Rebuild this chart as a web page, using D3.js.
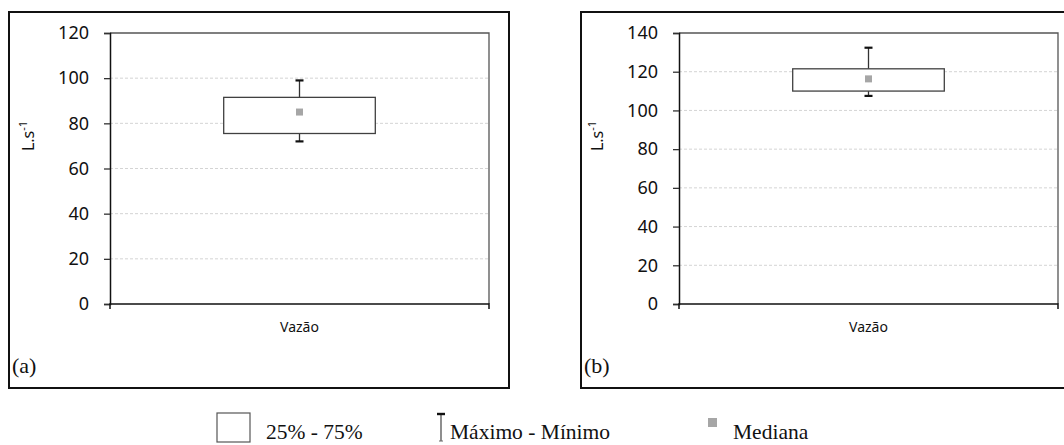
<!DOCTYPE html>
<html>
<head>
<meta charset="utf-8">
<script src="https://cdn.jsdelivr.net/npm/d3@7"></script>
<style>
  body { margin: 0; background: #fff; }
  svg { display: block; }
</style>
</head>
<body>
<svg></svg>
<script>
// data
const panelLabels = ['(a)', '(b)'];
const categories = ['Vazão'];
const yMaxes = [120, 140];
const yTicksA = [0, 20, 40, 60, 80, 100, 120];
const yTicksB = [0, 20, 40, 60, 80, 100, 120, 140];
const minimos = [72, 107.5];
const q1s = [75.5, 110];
const medianas = [85, 116.3];
const q3s = [91.5, 121.5];
const maximos = [99, 132.4];
const legendLabels = ['25% - 75%', 'Máximo - Mínimo', 'Mediana'];

const [svgWidth, svgHeight] = [1064, 445];
const svg = d3.select('svg')
  .attr('width', svgWidth)
  .attr('height', svgHeight);

const panels = [
  {outer: [9, 12, 500, 376], plot: [110, 33, 379, 271], ticks: yTicksA},
  {outer: [581, 12, 500, 376], plot: [679, 33, 379, 271], ticks: yTicksB}
];

panels.forEach((p, i) => {
  const [ox, oy, ow, oh] = p.outer;
  const [px, py, pw, ph] = p.plot;

  svg.append('rect')
    .attr('x', ox).attr('y', oy)
    .attr('width', ow).attr('height', oh)
    .attr('fill', 'none')
    .attr('stroke', '#111')
    .attr('stroke-width', 2);

  const g = svg.append('g')
    .attr('transform', `translate(${px}, ${py})`);

  const y = d3.scaleLinear()
    .domain([0, yMaxes[i]])
    .range([ph, 0]);
  const x = d3.scaleBand()
    .domain(categories)
    .range([0, pw])
    .paddingInner(0)
    .paddingOuter(0.75);

  // gridlines
  g.append('g')
    .selectAll('line')
    .data(p.ticks.filter(t => t > 0 && t < yMaxes[i]))
    .join('line')
    .attr('x1', 0).attr('x2', pw)
    .attr('y1', d => y(d)).attr('y2', d => y(d))
    .attr('stroke', '#d4d4d4')
    .attr('stroke-dasharray', '3,2');

  // top and right frame
  g.append('path')
    .attr('d', `M0,0H${pw}V${ph}`)
    .attr('fill', 'none')
    .attr('stroke', '#555')
    .attr('stroke-width', 1.3);

  // y axis
  const yAxis = g.append('g')
    .call(d3.axisLeft(y).tickValues(p.ticks).tickSize(6).tickPadding(15));
  yAxis.select('.domain').attr('stroke', '#111').attr('stroke-width', 1.5);
  yAxis.selectAll('.tick line').attr('stroke', '#333').attr('stroke-width', 1.3);
  yAxis.selectAll('.tick text')
    .attr('font-family', '"Noto Sans", sans-serif')
    .attr('font-size', 18)
    .attr('fill', '#111');

  // x axis
  g.append('path')
    .attr('d', `M0,${ph + 5}V${ph}H${pw}V${ph + 5}`)
    .attr('fill', 'none')
    .attr('stroke', '#111')
    .attr('stroke-width', 1.5);
  g.append('text')
    .attr('x', x(categories[0]) + x.bandwidth() / 2)
    .attr('y', ph + 28)
    .attr('text-anchor', 'middle')
    .attr('font-family', '"Noto Sans", sans-serif')
    .attr('font-size', 14)
    .attr('fill', '#111')
    .text(categories[0]);

  // y title
  const yt = g.append('text')
    .attr('transform', `translate(-76, ${ph * 0.38}) rotate(-90)`)
    .attr('text-anchor', 'middle')
    .attr('font-family', '"Noto Sans", sans-serif')
    .attr('font-size', 16)
    .attr('fill', '#111');
  yt.append('tspan').text('L.s');
  yt.append('tspan').attr('font-size', 11).attr('dy', -7).text('-1');

  // box
  const cx = x(categories[0]) + x.bandwidth() / 2;
  const capW = 8;
  g.append('line')
    .attr('x1', cx).attr('x2', cx)
    .attr('y1', y(maximos[i])).attr('y2', y(q3s[i]))
    .attr('stroke', '#333').attr('stroke-width', 1.3);
  g.append('line')
    .attr('x1', cx).attr('x2', cx)
    .attr('y1', y(q1s[i])).attr('y2', y(minimos[i]))
    .attr('stroke', '#333').attr('stroke-width', 1.3);
  [maximos[i], minimos[i]].forEach(v => {
    g.append('line')
      .attr('x1', cx - capW / 2).attr('x2', cx + capW / 2)
      .attr('y1', y(v)).attr('y2', y(v))
      .attr('stroke', '#111').attr('stroke-width', 2.2);
  });
  g.append('rect')
    .attr('x', x(categories[0]))
    .attr('y', y(q3s[i]))
    .attr('width', x.bandwidth())
    .attr('height', y(q1s[i]) - y(q3s[i]))
    .attr('fill', '#fff')
    .attr('stroke', '#404040')
    .attr('stroke-width', 1.3);
  g.append('rect')
    .attr('x', cx - 3.5)
    .attr('y', y(medianas[i]) - 3.5)
    .attr('width', 7).attr('height', 7)
    .attr('fill', '#a6a6a6');

  svg.append('text')
    .attr('x', ox + 3)
    .attr('y', oy + oh - 15)
    .attr('font-family', '"Liberation Serif", "Times New Roman", serif')
    .attr('font-size', 22)
    .attr('fill', '#111')
    .text(panelLabels[i]);
});

// legend
const legend = svg.append('g');
const legendFont = '"Liberation Serif", "Times New Roman", serif';
const legendX = [266, 450, 733];
const legendY = 439;

legend.append('rect')
  .attr('x', 217).attr('y', 413)
  .attr('width', 33).attr('height', 29)
  .attr('fill', '#fff')
  .attr('stroke', '#555')
  .attr('stroke-width', 1.2);

legend.append('line')
  .attr('x1', 441).attr('x2', 441)
  .attr('y1', 414).attr('y2', 441)
  .attr('stroke', '#444').attr('stroke-width', 1.2);
legend.append('line')
  .attr('x1', 437).attr('x2', 445)
  .attr('y1', 414).attr('y2', 414)
  .attr('stroke', '#111').attr('stroke-width', 2.4);
legend.append('line')
  .attr('x1', 439).attr('x2', 443)
  .attr('y1', 441).attr('y2', 441)
  .attr('stroke', '#666').attr('stroke-width', 1);

legend.append('rect')
  .attr('x', 708).attr('y', 418)
  .attr('width', 9).attr('height', 9)
  .attr('fill', '#a6a6a6');

legend.selectAll('text')
  .data(legendLabels)
  .join('text')
  .attr('x', (d, i) => legendX[i])
  .attr('y', legendY)
  .attr('font-family', legendFont)
  .attr('font-size', 21.5)
  .attr('fill', '#111')
  .text(d => d);
</script>
</body>
</html>
